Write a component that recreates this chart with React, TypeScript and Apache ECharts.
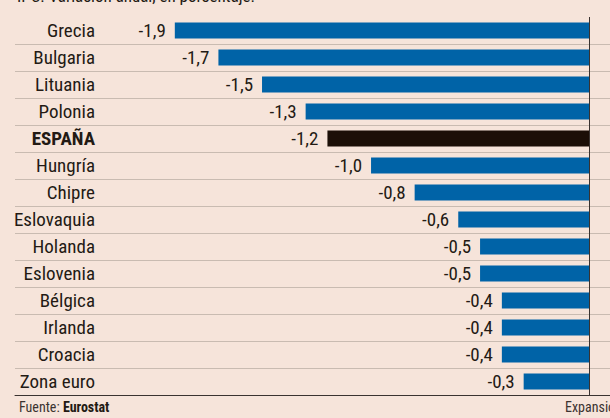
import React, { useEffect, useRef } from "react";
import * as echarts from "echarts";

const categories = [
  "Grecia",
  "Bulgaria",
  "Lituania",
  "Polonia",
  "ESPAÑA",
  "Hungría",
  "Chipre",
  "Eslovaquia",
  "Holanda",
  "Eslovenia",
  "Bélgica",
  "Irlanda",
  "Croacia",
  "Zona euro",
];
const values = [-1.9, -1.7, -1.5, -1.3, -1.2, -1.0, -0.8, -0.6, -0.5, -0.5, -0.4, -0.4, -0.4, -0.3];
const highlight = "ESPAÑA";
const title = "IPC. Variación anual, en porcentaje.";
const sourceLabel = "Fuente: ";
const sourceName = "Eurostat";
const brand = "Expansión";

const FONT = "'Liberation Sans Narrow', 'Roboto Condensed', 'DejaVu Sans Condensed', sans-serif";
const BG = "#f6e4da";
const TEXT = "#231a14";
const BLUE = "#0063a7";
const DARK = "#1c0f07";

export default function App() {
  const ref = useRef<HTMLDivElement>(null);
  useEffect(() => {
    if (!ref.current) return;
    const chart = echarts.init(ref.current, null, { renderer: "svg" });
    const data = categories.map((c, i) => ({
      value: values[i],
      itemStyle: { color: c === highlight ? DARK : BLUE },
    }));
    const separators = categories.slice(1).map((_, i) => ({ yAxis: i + 1 }));
    chart.setOption({
      animation: false,
      backgroundColor: BG,
      textStyle: { fontFamily: FONT },
      grid: { left: 15, right: 0, top: 17, bottom: 23, containLabel: false },
      xAxis: {
        type: "value",
        min: -2.633,
        max: 0.096,
        axisLine: { show: true, onZero: false, lineStyle: { color: "#3a3330", width: 1 } },
        axisTick: { show: false },
        axisLabel: { show: false },
        splitLine: { show: false },
      },
      yAxis: [
        {
          type: "category",
          inverse: true,
          data: categories,
          axisLine: { show: false },
          axisTick: { show: false },
          axisLabel: {
            inside: true,
            margin: 80,
            align: "right",
            fontFamily: FONT,
            fontSize: 19,
            color: TEXT,
            formatter: (v: string) => (v === highlight ? `{b|${v}}` : `{n|${v}}`),
            rich: {
              n: { fontFamily: FONT, fontSize: 19, color: TEXT },
              b: { fontFamily: FONT, fontSize: 19, color: TEXT, fontWeight: "bold" },
            },
          },
          splitLine: { show: false },
        },
        {
          type: "value",
          position: "right",
          inverse: true,
          min: 0,
          max: categories.length,
          interval: 1,
          axisLine: { show: false },
          axisTick: { show: false },
          axisLabel: { show: false },
          splitLine: { show: false },
        },
      ],
      series: [
        {
          type: "line",
          yAxisIndex: 1,
          data: [],
          markLine: {
            silent: true,
            symbol: "none",
            label: { show: false },
            lineStyle: { color: "#c9bbb1", width: 1, type: "solid", opacity: 1 },
            data: separators,
          },
        },
        {
          type: "bar",
          data,
          barWidth: 16,
          label: {
            show: true,
            position: "left",
            distance: 9,
            fontFamily: FONT,
            fontSize: 19,
            color: TEXT,
            formatter: (p: any) => String(p.value.toFixed(1)).replace(".", ","),
          },
          markLine: {
            silent: true,
            symbol: "none",
            label: { show: false },
            lineStyle: { color: "#3a3330", width: 1, type: "solid" },
            data: [{ xAxis: 0 }],
          },
        },
      ],
      graphic: [
        {
          type: "text",
          left: 17,
          top: -13,
          style: { text: title, font: `17px ${FONT}`, fill: TEXT },
        },
        {
          type: "text",
          left: 19,
          top: 400,
          style: {
            text: `{a|${sourceLabel}}{b|${sourceName}}`,
            rich: {
              a: { fontFamily: FONT, fontSize: 14, fill: "#3b3330", color: "#3b3330" },
              b: { fontFamily: FONT, fontSize: 14, fontWeight: "bold", fill: TEXT, color: TEXT },
            },
          },
        },
        {
          type: "text",
          left: 565,
          top: 400,
          style: { text: brand, font: `14px ${FONT}`, fill: "#3b3330" },
        },
      ],
    });
    return () => chart.dispose();
  }, []);
  return (
    <div
      ref={ref}
      style={{ position: "fixed", left: 0, top: 0, width: 610, height: 418, background: BG }}
    />
  );
}
